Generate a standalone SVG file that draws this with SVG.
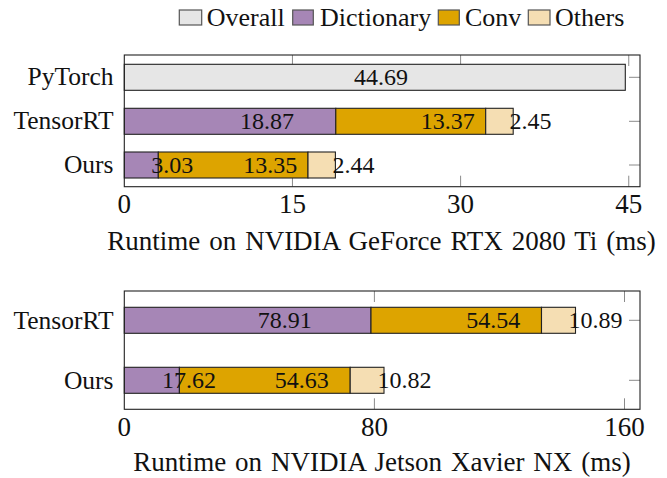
<svg xmlns="http://www.w3.org/2000/svg" width="667" height="478" viewBox="0 0 667 478">
<style>
text{font-family:"Liberation Serif","Times New Roman",serif;fill:#111}
.lab{font-size:25.5px;text-anchor:end}
.leg{font-size:26px}
.tick{font-size:27px;text-anchor:middle}
.ttl{font-size:27px;text-anchor:middle;word-spacing:2.2px}
.num{font-size:24px}
.box{fill:none;stroke:#222;stroke-width:1.1}
.tk{stroke:#8a8a8a;stroke-width:1;fill:none}
.bar{stroke:#222;stroke-width:1.1}
.ov{fill:#e6e6e6}
.di{fill:#a686b6}
.cv{fill:#dda400}
.ot{fill:#f5deb3}
.lb{stroke:#555;stroke-width:1.2}
</style>
<rect width="667" height="478" fill="#fff"/>
<g id="legend">
<rect class="lb ov" x="179.3" y="10" width="22.4" height="15"/>
<text class="leg" x="206.7" y="26">Overall</text>
<rect class="lb di" x="292.7" y="10" width="20.6" height="15"/>
<text class="leg" x="320" y="26">Dictionary</text>
<rect class="lb cv" x="438.3" y="10" width="21" height="15"/>
<text class="leg" x="465" y="26">Conv</text>
<rect class="lb ot" x="528.3" y="10" width="21.7" height="15"/>
<text class="leg" x="555" y="26">Others</text>
</g>
<g id="chart1">
<g id="chart1-ticks">
<path class="tk" d="M292.45 55v11M460.6 55v11M628.75 55v11M292.45 186.7v-11M460.6 186.7v-11M628.75 186.7v-11M640 77.3h-11M640 121.3h-11M640 165h-11"/>
</g>
<g id="pytorch1">
<rect class="bar ov" x="124.3" y="64.3" width="501" height="26"/>
<text class="num" x="381" y="85.3" text-anchor="middle">44.69</text>
</g>
<g id="tensorrt1">
<rect class="bar di" x="124.3" y="108.3" width="211.5" height="26"/>
<rect class="bar cv" x="335.8" y="108.3" width="149.9" height="26"/>
<rect class="bar ot" x="485.7" y="108.3" width="27.5" height="26"/>
<text class="num" x="240" y="129.3">18.87</text>
<text class="num" x="420.8" y="129.3">13.37</text>
<text class="num" x="509.5" y="129.3">2.45</text>
</g>
<g id="ours1">
<rect class="bar di" x="124.3" y="152" width="34" height="26"/>
<rect class="bar cv" x="158.3" y="152" width="149.7" height="26"/>
<rect class="bar ot" x="308" y="152" width="27.4" height="26"/>
<text class="num" x="151.3" y="173">3.03</text>
<text class="num" x="243.2" y="173">13.35</text>
<text class="num" x="332.5" y="173">2.44</text>
</g>
<rect class="box" x="124.3" y="55" width="515.7" height="131.7"/>
<text class="lab" x="113.5" y="85.3">PyTorch</text>
<text class="lab" x="113.5" y="129.3">TensorRT</text>
<text class="lab" x="113.5" y="173">Ours</text>
<text class="tick" x="124.3" y="213">0</text>
<text class="tick" x="292.45" y="213">15</text>
<text class="tick" x="460.6" y="213">30</text>
<text class="tick" x="628.75" y="213">45</text>
<text class="ttl" x="381.5" y="250">Runtime on NVIDIA GeForce RTX 2080 Ti (ms)</text>
</g>
<g id="chart2">
<g id="chart2-ticks">
<path class="tk" d="M374.4 291v11M624.5 291v11M374.4 409.3v-11M624.5 409.3v-11M640 320.3h-11M640 380.3h-11"/>
</g>
<g id="tensorrt2">
<rect class="bar di" x="124.3" y="307.3" width="246.7" height="26"/>
<rect class="bar cv" x="371" y="307.3" width="170.5" height="26"/>
<rect class="bar ot" x="541.5" y="307.3" width="34" height="26"/>
<text class="num" x="257.7" y="328.3">78.91</text>
<text class="num" x="466.3" y="328.3">54.54</text>
<text class="num" x="568.5" y="328.3">10.89</text>
</g>
<g id="ours2">
<rect class="bar di" x="124.3" y="367.3" width="55.1" height="26"/>
<rect class="bar cv" x="179.4" y="367.3" width="170.8" height="26"/>
<rect class="bar ot" x="350.2" y="367.3" width="33.8" height="26"/>
<text class="num" x="161.9" y="388.3">17.62</text>
<text class="num" x="274.8" y="388.3">54.63</text>
<text class="num" x="377.6" y="388.3">10.82</text>
</g>
<rect class="box" x="124.3" y="291" width="515.7" height="118.3"/>
<text class="lab" x="113.5" y="329.3">TensorRT</text>
<text class="lab" x="113.5" y="389.3">Ours</text>
<text class="tick" x="124.3" y="436">0</text>
<text class="tick" x="374.4" y="436">80</text>
<text class="tick" x="624.5" y="436">160</text>
<text class="ttl" x="382" y="471">Runtime on NVIDIA Jetson Xavier NX (ms)</text>
</g>
</svg>
